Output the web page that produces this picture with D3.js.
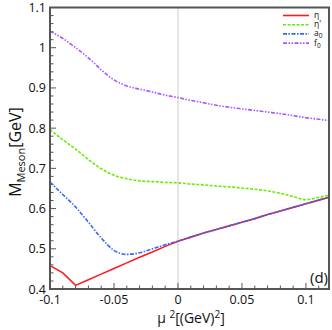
<!DOCTYPE html>
<html><head><meta charset="utf-8">
<script src="https://cdn.jsdelivr.net/npm/d3@7"></script>
<style>body{margin:0;background:#fff}svg{display:block}</style>
</head><body>
<script>
const mu2 = [-0.1,-0.09,-0.08,-0.07,-0.06,-0.05,-0.04,-0.03,-0.02,-0.01,0,0.01,0.02,0.03,0.04,0.05,0.06,0.07,0.08,0.09,0.1,0.11,0.118];
const eta   = [0.458,0.440,0.409,0.423,0.437,0.451,0.465,0.479,0.492,0.506,0.519,0.529,0.539,0.548,0.557,0.566,0.575,0.585,0.594,0.603,0.612,0.621,0.628];
const etaP  = [0.797,0.771,0.748,0.722,0.699,0.683,0.674,0.669,0.667,0.665,0.664,0.661,0.659,0.656,0.654,0.651,0.648,0.644,0.638,0.630,0.622,0.628,0.633];
const a0    = [0.666,0.635,0.604,0.566,0.527,0.496,0.486,0.490,0.500,0.510,0.519,0.529,0.539,0.548,0.557,0.566,0.575,0.585,0.594,0.603,0.612,0.621,0.628];
const f0    = [1.041,1.023,1.000,0.975,0.945,0.920,0.905,0.897,0.890,0.882,0.876,0.869,0.863,0.857,0.852,0.848,0.844,0.840,0.836,0.831,0.826,0.822,0.819];
const xTicks = [-0.1,-0.05,0,0.05,0.1];
const xTickLabels = ["-0.1","-0.05","0","0.05","0.1"];
const yTicks = [0.4,0.5,0.6,0.7,0.8,0.9,1,1.1];
const yTickLabels = ["0.4","0.5","0.6","0.7","0.8","0.9","1","1.1"];
const seriesNames = ["η","η'","a0","f0"];

const W=332,H=330;
const L=50,R=329,T=7.5,B=289;
const svg=d3.select("body").append("svg").attr("width",W).attr("height",H);
const x=d3.scaleLinear().domain([-0.1,0.118]).range([L,R]);
const y=d3.scaleLinear().domain([0.4,1.1]).range([B,T]);
const font="'Open Sans', sans-serif";
const axc="#555";

// zero line
svg.append("line").attr("x1",x(0)).attr("x2",x(0)).attr("y1",T).attr("y2",B)
  .attr("stroke","#999").attr("stroke-width",1).attr("stroke-dasharray","1,1");

// minor ticks
const xMinor=d3.range(-0.1,0.1185,0.01).map(v=>+v.toFixed(3));
const yMinor=d3.range(0.4,1.1001,0.02).map(v=>+v.toFixed(3));
const isMajorX=v=>xTicks.some(t=>Math.abs(t-v)<1e-6);
const isMajorY=v=>yTicks.some(t=>Math.abs(t-v)<1e-6);
svg.append("g").selectAll("line").data(xMinor).join("line")
  .attr("x1",d=>x(d)).attr("x2",d=>x(d)).attr("y1",B).attr("y2",d=>B-(isMajorX(d)?6:3.5))
  .attr("stroke",axc).attr("stroke-width",1);
svg.append("g").selectAll("line").data(yMinor).join("line")
  .attr("y1",d=>y(d)).attr("y2",d=>y(d)).attr("x1",L).attr("x2",d=>L+(isMajorY(d)?6:3.5))
  .attr("stroke",axc).attr("stroke-width",1);

// tick labels
svg.append("g").selectAll("text").data(xTicks).join("text")
  .attr("x",d=>x(d)).attr("y",B+15).attr("text-anchor","middle")
  .attr("font-family",font).attr("font-size",12.5).attr("fill","#111")
  .text((d,i)=>xTickLabels[i]);
svg.append("g").selectAll("text").data(yTicks).join("text")
  .attr("x",L-4).attr("y",d=>y(d)+4.5).attr("text-anchor","end")
  .attr("font-family",font).attr("font-size",12.5).attr("fill","#111")
  .text((d,i)=>yTickLabels[i]);

// series
const styles=[
  {v:eta,c:"#ff1a1a",d:null,w:1.6},
  {v:etaP,c:"#66ee00",d:"3,1.5",w:1.6},
  {v:a0,c:"#3366ff",d:"4,1.5,1.5,1.5",w:1.6},
  {v:f0,c:"#aa55ff",d:"4,1.5,1.5,1.5,1.5,1.5",w:1.6}
];
const line=d3.line().x((d,i)=>x(mu2[i])).y(d=>y(d)).curve(d3.curveMonotoneX);
const lineLin=d3.line().x((d,i)=>x(mu2[i])).y(d=>y(d));
styles.forEach((s,k)=>{
  svg.append("path").attr("d",(k===0?lineLin:line)(s.v)).attr("fill","none")
    .attr("stroke",s.c).attr("stroke-width",s.w).attr("stroke-dasharray",s.d);
});

// frame
svg.append("rect").attr("x",L).attr("y",T).attr("width",R-L).attr("height",B-T)
  .attr("fill","none").attr("stroke",axc).attr("stroke-width",2);

// legend
styles.forEach((s,k)=>{
  const ly=15.5+k*9.2;
  svg.append("line").attr("x1",283).attr("x2",309).attr("y1",ly).attr("y2",ly)
    .attr("stroke",s.c).attr("stroke-width",1.6).attr("stroke-dasharray",s.d);
  const t=svg.append("text").attr("x",314).attr("y",ly+2.5).attr("font-family",font)
    .attr("font-size",8.5).attr("fill","#111");
  const nm=seriesNames[k];
  if(nm==="a0"||nm==="f0"){
    t.append("tspan").text(nm[0]);
    t.append("tspan").attr("dy",2).attr("font-size",6.5).text(nm[1]);
  } else t.text(nm);
});

// (d)
svg.append("text").attr("x",328).attr("y",283).attr("text-anchor","end")
  .attr("font-family",font).attr("font-size",15).attr("fill","#111").text("(d)");

// y label
const yl=svg.append("text").attr("transform","translate(21,152) rotate(-90)")
  .attr("text-anchor","middle").attr("font-family",font).attr("font-size",16).attr("fill","#111");
yl.append("tspan").text("M");
yl.append("tspan").attr("dy",4).attr("font-size",11).text("Meson");
yl.append("tspan").attr("dy",-4).text("[GeV]");

// x label
const xl=svg.append("text").attr("x",191).attr("y",323).attr("text-anchor","middle")
  .attr("font-family",font).attr("font-size",14).attr("fill","#111");
xl.append("tspan").text("μ ");
xl.append("tspan").attr("dy",-5).attr("font-size",10).text("2");
xl.append("tspan").attr("dy",5).text("[(GeV)");
xl.append("tspan").attr("dy",-5).attr("font-size",10).text("2");
xl.append("tspan").attr("dy",5).text("]");
</script>
</body></html>
